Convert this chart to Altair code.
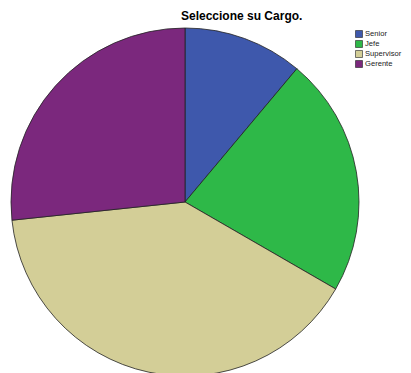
import altair as alt
import pandas as pd

categories = ["Senior", "Jefe", "Supervisor", "Gerente"]
counts = [5, 10, 18, 12]
colors = ["#3E58AC", "#2EB848", "#D3CE97", "#7B287D"]

df = pd.DataFrame({"cargo": categories, "n": counts, "idx": list(range(len(categories)))})

chart = alt.Chart(df).mark_arc(
    outerRadius=174, stroke="#222222", strokeWidth=0.8
).encode(
    theta=alt.Theta("n:Q", stack=True),
    order=alt.Order("idx:Q"),
    color=alt.Color(
        "cargo:N",
        scale=alt.Scale(domain=categories, range=colors),
        legend=alt.Legend(
            title=None, orient="none", legendX=347, legendY=22,
            symbolType="square", symbolSize=49, symbolStrokeColor="#222222",
            symbolStrokeWidth=0.6, symbolOpacity=1,
            labelFont="Liberation Sans", labelFontSize=7.6, labelColor="#222222",
            labelOffset=2, rowPadding=0, labelLimit=100,
        ),
    ),
    x=alt.value(177),
    y=alt.value(194),
).properties(
    width=395, height=365,
    autosize=alt.AutoSizeParams(type="none"),
    padding=0,
    title=alt.TitleParams(
        "Seleccione su Cargo.", anchor="start", frame="group", dx=173, dy=19,
        font="Liberation Sans", fontSize=12, fontWeight="bold", color="#000000",
        offset=4,
    ),
).configure_view(stroke=None)

chart.save("out.html", embed_options={"renderer": "svg", "actions": False})
